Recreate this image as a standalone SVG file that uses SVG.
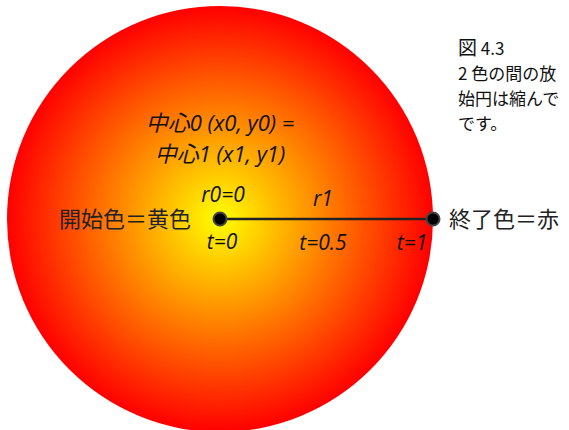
<svg xmlns="http://www.w3.org/2000/svg" width="569" height="430" viewBox="0 0 569 430">
<defs>
<radialGradient id="g" cx="220" cy="219" r="213" gradientUnits="userSpaceOnUse">
<stop offset="0" stop-color="#FFFF00"/>
<stop offset="1" stop-color="#FF0000"/>
</radialGradient>
<style>
.lbl{font-family:"Open Sans","Noto Sans CJK JP",sans-serif;font-style:italic;font-size:21px;fill:#111;text-anchor:middle}
.big{font-size:22px}
.jp{font-family:"Noto Sans CJK JP",sans-serif;font-size:22px;fill:#222}
.cap{font-family:"Noto Sans CJK JP",sans-serif;font-size:17px;fill:#111}
.dot{fill:#000;stroke:#444;stroke-width:2}
</style>
</defs>
<rect width="569" height="430" fill="#fff"/>
<g id="circle"><circle cx="220" cy="219" r="213" fill="url(#g)"/></g>
<g id="caption">
<text class="cap" x="458" y="55"><tspan font-size="19">図</tspan> 4.3</text>
<text class="cap" x="458" y="80">2 色の間の放</text>
<text class="cap" x="458" y="105">始円は縮んで</text>
<text class="cap" x="458" y="130">です。</text>
</g>
<g id="center-label">
<text class="lbl big" x="220" y="131">中心0 (x0, y0) =</text>
<text class="lbl big" x="220" y="162">中心1 (x1, y1)</text>
</g>
<g id="connectors">
<line x1="220" y1="219" x2="433" y2="219" stroke="#222" stroke-width="2.5"/>
</g>
<g id="start">
<circle class="dot" cx="220" cy="219" r="6.5"/>
<text class="jp" x="59" y="227">開始色＝黄色</text>
<text class="lbl" x="223" y="202">r0=0</text>
<text class="lbl" x="222" y="249">t=0</text>
</g>
<g id="mid">
<text class="lbl" x="323" y="206">r1</text>
<text class="lbl" x="323" y="250">t=0.5</text>
</g>
<g id="end">
<circle class="dot" cx="433" cy="219" r="6.5"/>
<text class="jp" x="449" y="227">終了色＝赤</text>
<text class="lbl" x="412" y="250">t=1</text>
</g>
</svg>
